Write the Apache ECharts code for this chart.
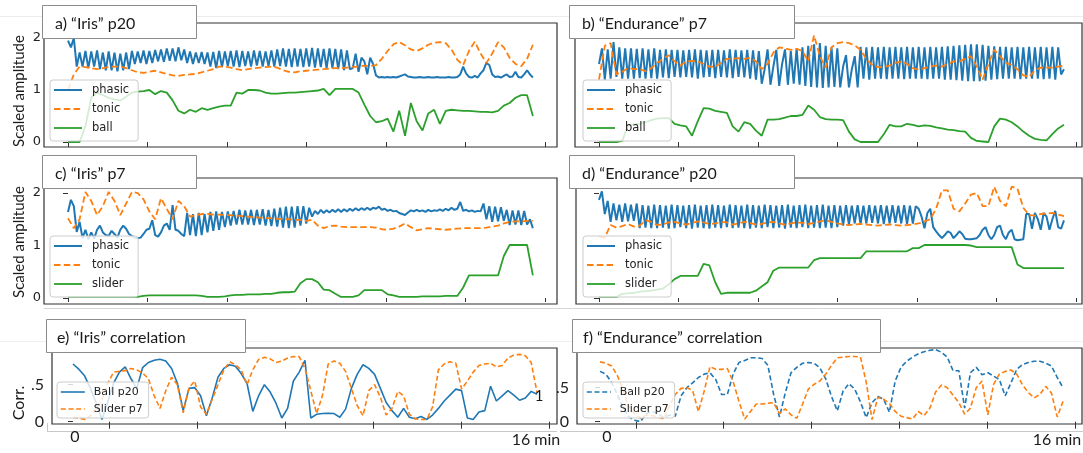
<!DOCTYPE html>
<html>
<head>
<meta charset="utf-8">
<script src="https://cdn.jsdelivr.net/npm/echarts@6/dist/echarts.min.js"></script>
<style>
  html, body { margin: 0; padding: 0; background: #fff; }
  #chart { width: 1083px; height: 453px; }
</style>
</head>
<body>
<div id="chart"></div>
<script>
// time step of each array, in minutes
const STEP_FINE = 0.1
const STEP = 0.2

// tick positions (minutes)
const TOP_TICKS = [0, 2.736, 5.471, 8.207, 10.943, 13.679, 16.414]
const CORR_TICKS = [1.24, 4.27, 7.31, 10.34, 13.38, 16.41]
const AMP_TICKS = [0, 1, 2]
const CORR_YTICKS = [0, 0.5]

// \u200c keeps Lato from merging "ti" into a ligature
const TITLES = ['a) “Iris” p20', 'b) “Endurance” p7', 'c) “Iris” p7', 'd) “Endurance” p20', 'e) “Iris” correlat\u200cion', 'f) “Endurance” correlat\u200cion']

// a) Iris p20
const phasicA = [1.95,1.82,2.0,1.45,1.72,1.45,1.75,1.42,1.74,1.45,
  1.76,1.4,1.72,1.38,1.74,1.38,1.72,1.36,1.7,1.38,
  1.72,1.4,1.75,1.5,1.74,1.52,1.76,1.5,1.75,1.52,
  1.77,1.55,1.78,1.54,1.8,1.56,1.8,1.55,1.82,1.57,
  1.78,1.52,1.74,1.5,1.72,1.52,1.73,1.5,1.72,1.45,
  1.73,1.42,1.75,1.44,1.74,1.46,1.75,1.45,1.76,1.44,
  1.75,1.46,1.74,1.45,1.76,1.47,1.75,1.45,1.74,1.46,
  1.76,1.45,1.78,1.46,1.8,1.45,1.79,1.44,1.8,1.45,
  1.79,1.44,1.8,1.45,1.81,1.43,1.8,1.44,1.79,1.42,
  1.8,1.42,1.79,1.4,1.78,1.38,1.76,1.4,1.42,1.7,
  1.35,1.62,1.55,1.3,1.62,1.5,1.28,1.24,1.25,1.24,
  1.25,1.24,1.25,1.24,1.26,1.28,1.3,1.26,1.25,1.24,
  1.24,1.25,1.24,1.24,1.25,1.24,1.24,1.25,1.24,1.24,
  1.24,1.25,1.24,1.24,1.25,1.3,1.45,1.32,1.25,1.24,
  1.27,1.24,1.32,1.38,1.52,1.48,1.3,1.25,1.26,1.24,
  1.27,1.3,1.25,1.26,1.35,1.25,1.24,1.3,1.38,1.3,
  1.24]
const tonicA = [1.0,1.3,1.45,1.44,1.42,1.4,1.42,1.44,1.45,1.45,
  1.42,1.38,1.34,1.33,1.35,1.37,1.34,1.31,1.28,1.27,
  1.29,1.3,1.31,1.34,1.37,1.4,1.45,1.45,1.43,1.4,
  1.38,1.4,1.42,1.43,1.44,1.45,1.43,1.38,1.35,1.34,
  1.36,1.37,1.38,1.39,1.4,1.41,1.42,1.42,1.43,1.44,
  1.45,1.47,1.46,1.48,1.6,1.75,1.88,1.92,1.86,1.78,
  1.75,1.8,1.87,1.91,1.92,1.9,1.78,1.58,1.48,1.75,
  1.93,1.7,1.52,1.7,1.92,1.82,1.62,1.5,1.46,1.6,
  1.87]
const ballA = [0,0,0,0.3,0.85,0.95,0.9,0.85,0.82,0.8,
  0.87,0.95,0.97,0.98,1.0,0.92,0.98,0.95,0.8,0.6,
  0.55,0.62,0.58,0.65,0.62,0.65,0.68,0.7,0.7,0.95,
  0.93,1.0,1.0,0.99,0.95,0.93,0.93,0.94,0.95,0.95,
  0.96,0.97,0.98,0.99,1.02,0.9,1.02,1.02,1.02,1.02,
  0.95,0.72,0.5,0.38,0.4,0.45,0.2,0.6,0.12,0.75,
  0.4,0.22,0.55,0.62,0.35,0.6,0.62,0.61,0.6,0.6,
  0.59,0.58,0.58,0.57,0.6,0.7,0.75,0.85,0.9,0.9,
  0.5]

// b) Endurance p7
const phasicB = [1.5,1.8,1.2,1.78,1.22,1.92,1.25,1.82,1.22,1.8,
  1.22,1.8,1.22,1.79,1.23,1.8,1.22,1.78,1.23,1.8,
  1.22,1.77,1.24,1.78,1.23,1.77,1.25,1.77,1.24,1.76,
  1.25,1.77,1.24,1.78,1.22,1.77,1.24,1.76,1.25,1.77,
  1.23,1.77,1.25,1.76,1.24,1.78,1.23,1.77,1.25,1.76,
  1.24,1.77,1.22,1.76,1.2,1.75,1.12,1.4,1.78,1.1,
  1.45,1.77,1.08,1.5,1.78,1.1,1.75,1.12,1.8,1.1,
  1.82,1.08,1.85,1.06,1.88,1.05,1.9,1.04,1.85,1.05,
  1.82,1.06,1.8,1.05,1.45,1.67,1.05,1.4,1.65,1.05,
  1.83,1.22,1.82,1.2,1.83,1.22,1.82,1.22,1.83,1.21,
  1.82,1.22,1.83,1.22,1.82,1.21,1.83,1.22,1.82,1.22,
  1.83,1.22,1.82,1.21,1.83,1.22,1.82,1.22,1.83,1.2,
  1.84,1.2,1.85,1.19,1.86,1.18,1.87,1.17,1.88,1.17,
  1.88,1.17,1.87,1.18,1.85,1.2,1.84,1.21,1.83,1.22,
  1.83,1.22,1.82,1.22,1.83,1.21,1.82,1.22,1.83,1.22,
  1.82,1.22,1.83,1.21,1.82,1.22,1.83,1.2,1.82,1.3,
  1.4]
const tonicB = [1.2,1.85,1.9,1.3,1.35,1.42,1.4,1.4,1.36,1.42,
  1.52,1.6,1.67,1.55,1.47,1.55,1.56,1.55,1.5,1.45,
  1.45,1.52,1.6,1.6,1.61,1.6,1.62,1.55,1.4,1.5,
  1.72,1.82,1.8,1.77,1.79,1.75,1.55,2.05,1.65,1.43,
  1.82,1.9,1.92,1.9,1.86,1.77,1.6,1.48,1.44,1.44,
  1.47,1.52,1.55,1.5,1.42,1.39,1.42,1.45,1.47,1.45,
  1.5,1.55,1.55,1.6,1.65,1.45,1.2,1.5,1.77,1.65,
  1.52,1.48,1.4,1.28,1.25,1.38,1.43,1.43,1.43,1.45,
  1.47]
const ballB = [0,0,0,0,0.02,0.33,0.34,0.35,0.38,0.42,
  0.45,0.46,0.46,0.35,0.32,0.3,0.12,0.4,0.65,0.64,
  0.6,0.58,0.56,0.3,0.2,0.38,0.35,0.22,0.12,0.43,
  0.43,0.44,0.47,0.5,0.5,0.52,0.7,0.62,0.48,0.44,
  0.43,0.43,0.42,0.2,0.05,0,0,0,0,0.15,
  0.33,0.3,0.3,0.35,0.33,0.3,0.32,0.31,0.28,0.26,
  0.24,0.23,0.21,0.2,0.08,0.02,0.01,0,0.3,0.45,
  0.43,0.38,0.3,0.2,0.12,0.06,0.04,0.03,0.15,0.26,
  0.33]

// c) Iris p7
const phasicC = [1.64,1.87,1.75,1.26,1.45,1.14,1.3,1.12,1.25,1.13,
  1.3,1.38,1.25,1.2,1.18,1.28,1.22,1.15,1.3,1.38,
  1.32,1.22,1.18,1.15,1.14,1.15,1.22,1.3,1.32,1.48,
  1.2,1.17,1.25,1.38,1.42,1.3,1.77,1.3,1.28,1.22,
  1.18,1.62,1.2,1.6,1.18,1.62,1.2,1.6,1.25,1.64,
  1.28,1.65,1.3,1.64,1.35,1.65,1.38,1.66,1.4,1.68,
  1.4,1.67,1.4,1.68,1.39,1.68,1.4,1.69,1.38,1.68,
  1.37,1.7,1.36,1.72,1.34,1.74,1.33,1.74,1.34,1.75,
  1.38,1.75,1.42,1.72,1.55,1.66,1.6,1.68,1.62,1.67,
  1.63,1.68,1.64,1.69,1.64,1.69,1.65,1.7,1.66,1.71,
  1.67,1.71,1.68,1.72,1.68,1.72,1.7,1.74,1.68,1.7,
  1.66,1.68,1.65,1.66,1.62,1.6,1.58,1.63,1.67,1.65,
  1.68,1.65,1.67,1.64,1.68,1.65,1.67,1.66,1.69,1.66,
  1.7,1.67,1.72,1.68,1.7,1.83,1.66,1.68,1.65,1.67,
  1.64,1.66,1.65,1.8,1.5,1.75,1.45,1.74,1.46,1.73,
  1.47,1.68,1.39,1.67,1.4,1.67,1.39,1.66,1.4,1.5,
  1.33]
const tonicC = [1.52,1.33,1.5,2.02,1.85,1.58,1.75,2.02,1.85,1.58,
  1.8,2.02,2.0,1.88,1.65,1.5,1.9,1.7,1.5,1.85,
  1.75,1.55,1.58,1.6,1.6,1.59,1.59,1.58,1.58,1.57,
  1.56,1.55,1.54,1.53,1.52,1.52,1.51,1.5,1.5,1.49,
  1.49,1.47,1.49,1.38,1.33,1.37,1.38,1.36,1.35,1.35,
  1.35,1.35,1.35,1.34,1.31,1.3,1.32,1.36,1.42,1.35,
  1.29,1.31,1.33,1.32,1.31,1.3,1.31,1.32,1.33,1.33,
  1.33,1.33,1.34,1.36,1.38,1.42,1.45,1.46,1.46,1.47,
  1.47]
const sliderC = [0.02,0.02,0.02,0.02,0.02,0.02,0.02,0.02,0.02,0.02,
  0.02,0.02,0.02,0.04,0.05,0.05,0.05,0.05,0.05,0.05,
  0.05,0.05,0.05,0.04,0.02,0.02,0.02,0.03,0.05,0.06,
  0.06,0.07,0.07,0.07,0.08,0.08,0.1,0.11,0.11,0.12,
  0.28,0.36,0.36,0.3,0.16,0.15,0.08,0.02,0.02,0.02,
  0.05,0.15,0.15,0.15,0.15,0.07,0.05,0.02,0.02,0.02,
  0.02,0.03,0.03,0.03,0.03,0.04,0.04,0.04,0.2,0.43,
  0.43,0.43,0.43,0.43,0.43,0.8,1.01,1.01,1.01,1.01,
  0.43]

// d) Endurance p20
const phasicD = [1.87,2.03,1.6,1.85,1.45,1.8,1.48,1.78,1.45,1.8,
  1.46,1.78,1.47,1.8,1.33,1.77,1.34,1.76,1.33,1.78,
  1.33,1.77,1.34,1.76,1.32,1.78,1.33,1.77,1.35,1.76,
  1.33,1.77,1.32,1.78,1.34,1.76,1.33,1.77,1.32,1.78,
  1.34,1.77,1.33,1.76,1.35,1.78,1.33,1.77,1.34,1.76,
  1.33,1.78,1.32,1.77,1.34,1.76,1.33,1.78,1.35,1.77,
  1.33,1.76,1.34,1.77,1.32,1.78,1.34,1.76,1.33,1.77,
  1.35,1.78,1.33,1.76,1.34,1.77,1.33,1.78,1.34,1.76,
  1.33,1.77,1.35,1.76,1.38,1.77,1.4,1.76,1.42,1.77,
  1.41,1.76,1.42,1.77,1.43,1.76,1.42,1.77,1.41,1.76,
  1.42,1.77,1.43,1.76,1.42,1.77,1.41,1.76,1.42,1.75,
  1.7,1.55,1.33,1.62,1.7,1.35,1.27,1.2,1.14,1.2,
  1.27,1.24,1.14,1.2,1.27,1.22,1.13,1.12,1.12,1.13,
  1.14,1.2,1.3,1.35,1.2,1.12,1.2,1.35,1.38,1.2,
  1.12,1.25,1.3,1.12,1.1,1.11,1.12,1.6,1.6,1.32,
  1.62,1.5,1.3,1.62,1.55,1.3,1.5,1.66,1.35,1.32,
  1.48]
const tonicD = [1.17,1.15,1.39,1.34,1.37,1.41,1.36,1.38,1.48,1.45,
  1.39,1.4,1.44,1.45,1.42,1.4,1.43,1.46,1.44,1.41,
  1.42,1.45,1.44,1.4,1.42,1.45,1.43,1.4,1.41,1.44,
  1.45,1.42,1.4,1.42,1.44,1.43,1.41,1.43,1.46,1.48,
  1.45,1.42,1.4,1.39,1.4,1.41,1.4,1.39,1.38,1.39,
  1.4,1.39,1.38,1.39,1.4,1.42,1.46,1.5,1.7,2.05,
  2.05,1.7,1.65,1.8,1.97,2.0,1.75,1.75,2.12,1.85,
  1.75,2.12,2.08,1.72,1.58,1.57,1.6,1.61,1.62,1.59,
  1.56]
const sliderD = [0.02,0.02,0.02,0.02,0.08,0.09,0.1,0.12,0.13,0.14,
  0.16,0.18,0.26,0.36,0.42,0.42,0.42,0.42,0.65,0.62,
  0.3,0.08,0.1,0.1,0.1,0.1,0.1,0.14,0.22,0.3,
  0.52,0.58,0.58,0.58,0.58,0.58,0.58,0.72,0.76,0.76,
  0.76,0.76,0.76,0.76,0.76,0.76,0.89,0.89,0.89,0.89,
  0.89,0.89,0.89,0.89,0.95,0.95,1.01,1.01,1.01,1.01,
  1.01,1.01,1.01,1.01,1.0,0.97,0.97,0.97,0.97,0.97,
  0.97,0.97,0.64,0.57,0.57,0.57,0.57,0.57,0.57,0.57,
  0.57]

// e) Iris correlation
const ballCorrE = [0.78,0.71,0.62,0.45,0.25,0.03,0.27,0.52,0.67,0.74,
  0.58,0.45,0.73,0.8,0.83,0.845,0.82,0.72,0.52,0.15,
  0.45,0.46,0.35,0.08,0.32,0.6,0.72,0.77,0.75,0.65,
  0.52,0.14,0.35,0.5,0.4,0.25,0.05,0.18,0.55,0.67,
  0.83,0.05,0.1,0.11,0.115,0.11,0.06,0.17,0.45,0.64,
  0.77,0.72,0.64,0.45,0.26,0.15,0.06,0.18,0.06,0.04,
  0.07,0.03,0.09,0.18,0.28,0.36,0.44,0.42,0.05,0.03,
  0.13,0.15,0.48,0.28,0.35,0.42,0.36,0.29,0.32,0.41,
  0.37]
const sliderCorrE = [0.06,0.05,0.03,0.08,0.18,0.3,0.52,0.67,0.68,0.69,
  0.72,0.7,0.66,0.58,0.35,0.18,0.42,0.6,0.5,0.12,
  0.46,0.55,0.2,0.1,0.3,0.5,0.7,0.81,0.77,0.7,
  0.5,0.7,0.84,0.87,0.85,0.8,0.82,0.86,0.88,0.88,
  0.72,0.42,0.11,0.35,0.78,0.82,0.79,0.68,0.45,0.22,
  0.08,0.42,0.5,0.33,0.09,0.18,0.41,0.35,0.1,0.04,
  0.03,0.03,0.2,0.7,0.78,0.81,0.79,0.44,0.55,0.67,
  0.76,0.78,0.79,0.74,0.76,0.86,0.9,0.91,0.89,0.8,
  0.4]

// f) Endurance correlation
const ballCorrF = [0.74,0.7,0.58,0.4,0.2,0.07,0.02,0.0,0.12,0.15,
  0.12,0.06,0.1,0.08,0.38,0.5,0.57,0.65,0.7,0.72,
  0.62,0.4,0.4,0.7,0.87,0.9,0.94,0.94,0.93,0.83,
  0.4,0.07,0.42,0.72,0.8,0.86,0.87,0.86,0.79,0.63,
  0.37,0.16,0.45,0.56,0.48,0.29,0.06,0.28,0.37,0.33,
  0.14,0.6,0.8,0.89,0.95,1.0,1.03,1.05,1.06,1.02,
  0.95,0.75,0.75,0.2,0.72,0.8,0.69,0.72,0.67,0.62,
  0.38,0.57,0.77,0.84,0.87,0.89,0.89,0.86,0.82,0.65,
  0.5]
const sliderCorrF = [0.88,0.86,0.82,0.68,0.45,0.22,0.12,0.05,0.1,0.09,
  0.07,0.04,0.23,0.4,0.49,0.5,0.46,0.15,0.45,0.81,
  0.77,0.77,0.78,0.59,0.3,0.04,0.15,0.26,0.26,0.27,
  0.28,0.12,0.19,0.1,0.05,0.26,0.48,0.55,0.6,0.7,
  0.83,0.94,0.95,0.96,0.96,0.95,0.58,0.03,0.36,0.33,
  0.27,0.15,0.08,0.06,0.04,0.15,0.09,0.2,0.44,0.54,
  0.5,0.39,0.28,0.11,0.2,0.5,0.6,0.1,0.55,0.7,
  0.74,0.76,0.7,0.54,0.43,0.35,0.4,0.52,0.42,0.07,
  0.3]

const BLUE = '#1f77b4'
const ORANGE = '#ff7f0e'
const GREEN = '#2ca02c'
const DASH_TOP = [6.5, 3.3]
const DASH_BOT = [5, 2.7]

const myChart = echarts.init(document.getElementById('chart'), null, { renderer: 'canvas' })

/* one line series, x in minutes from the array index */
function line(name, idx, values, step, color, width, dash) {
  return {
    type: 'line',
    name: name,
    xAxisIndex: idx,
    yAxisIndex: idx,
    data: values.map((v, i) => [i * step, v]),
    symbol: 'none',
    lineStyle: { color: color, width: width, type: dash || 'solid' },
    itemStyle: { color: color }
  }
}

function xAxisFor(idx, min, max, ticks, len) {
  return {
    type: 'value', gridIndex: idx, min: min, max: max,
    axisLine: { show: false },
    splitLine: { show: false },
    axisLabel: { show: false },
    axisTick: { show: true, length: len, customValues: ticks, lineStyle: { color: '#333' } }
  }
}

function yAxisFor(idx, min, max, ticks, label) {
  return {
    type: 'value', gridIndex: idx, min: min, max: max,
    axisLine: { show: false },
    splitLine: { show: false },
    axisTick: { show: true, length: 5, customValues: ticks, lineStyle: { color: '#333' } },
    axisLabel: label ? Object.assign({ show: true, customValues: ticks, color: '#222' }, label) : { show: false }
  }
}

const ampLabel = { fontFamily: 'DejaVu Sans', fontSize: 13, margin: 3 }
const corrLabel = { fontFamily: 'Lato', fontSize: 16, margin: 8, formatter: v => (v === 0 ? '0' : '.5') }

function legendFor(left, top, names, small) {
  return {
    orient: 'vertical',
    left: left,
    top: top,
    data: names,
    selectedMode: false,
    itemWidth: small ? 24 : 28,
    itemHeight: small ? 12 : 14,
    itemGap: 5,
    padding: small ? [4, 6, 3, 3] : [3, 9, 6, 3],
    backgroundColor: 'rgba(255,255,255,0.8)',
    borderColor: '#cccccc',
    borderWidth: 1,
    borderRadius: 3,
    itemStyle: { opacity: 0 },
    lineStyle: { width: 'inherit' },
    formatter: n => n.slice(2),
    textStyle: {
      fontFamily: 'DejaVu Sans',
      fontSize: small ? 11 : 11.5,
      lineHeight: small ? 12 : 14,
      color: '#222',
      padding: [0, 0, 0, small ? 4 : 5]
    }
  }
}

/* title boxes */
const titleBoxes = [
  [42, 5, 154, 33], [569, 5, 225, 33],
  [42, 155, 154, 33], [569, 155, 225, 33],
  [46, 319, 199, 33], [572, 319, 308, 33]
]
const graphic = []
titleBoxes.forEach((b, i) => {
  graphic.push({
    type: 'rect', z: 100, silent: true,
    shape: { x: b[0] + 0.5, y: b[1] + 0.5, width: b[2], height: b[3] },
    style: { fill: '#fff', stroke: '#8c8c8c', lineWidth: 1 }
  })
  graphic.push({
    type: 'text', z: 101, silent: true,
    x: b[0] + (i >= 4 ? 11 : 13), y: b[1] + 18.5,
    style: { text: TITLES[i], font: '16px Lato', fill: '#1a1a1a', align: 'left', verticalAlign: 'middle', textAlign: 'left', textVerticalAlign: 'middle' }
  })
})

/* faint rules left from the figure layout */
const rules = [
  [0, 16.5, 1083, '#ececec'], [44, 308.5, 1083, '#d6d6d6'], [0, 341.5, 1083, '#efefef'],
  [47, 431.5, 557, '#c8c8c8'], [560, 431.5, 1083, '#c8c8c8']
]
rules.forEach(r => {
  graphic.push({ type: 'line', silent: true, z: 1, shape: { x1: r[0], y1: r[1], x2: r[2], y2: r[1] }, style: { stroke: r[3], lineWidth: 1 } })
})
graphic.push({ type: 'line', silent: true, z: 1, shape: { x1: 47.5, y1: 423, x2: 47.5, y2: 431 }, style: { stroke: '#c8c8c8', lineWidth: 1 } })

/* axis names and loose labels */
function txt(s, x, y, size, rot) {
  return {
    type: 'text', silent: true, z: 101, x: x, y: y, rotation: rot || 0,
    style: { text: s, font: size + 'px Lato', fill: '#1a1a1a', align: 'center', verticalAlign: 'middle', textAlign: 'center', textVerticalAlign: 'middle' }
  }
}
graphic.push(txt('Scaled amplitude', 19, 91, 15, Math.PI / 2))
graphic.push(txt('Scaled amplitude', 19, 242, 15, Math.PI / 2))
graphic.push(txt('Corr.', 19, 403, 16, Math.PI / 2))
graphic.push(txt('0', 75, 437, 16))
graphic.push(txt('16 min', 536, 440, 16))
graphic.push(txt('0', 607, 437, 16))
graphic.push(txt('16 min', 1057, 440, 16))
graphic.push(txt('1', 539, 396, 15))

const gridStyle = { show: true, borderColor: '#333', borderWidth: 1.2, backgroundColor: 'transparent' }

const option = {
  animation: false,
  backgroundColor: '#fff',
  grid: [
    Object.assign({ left: 44, top: 23, width: 513, height: 124 }, gridStyle),
    Object.assign({ left: 575, top: 23, width: 507, height: 124 }, gridStyle),
    Object.assign({ left: 44, top: 178, width: 513, height: 126 }, gridStyle),
    Object.assign({ left: 576, top: 178, width: 506, height: 126 }, gridStyle),
    Object.assign({ left: 52, top: 348, width: 505, height: 76 }, gridStyle),
    Object.assign({ left: 577, top: 348, width: 505, height: 76 }, gridStyle)
  ],
  xAxis: [
    xAxisFor(0, -0.826, 16.83, TOP_TICKS, 5),
    xAxisFor(1, -0.826, 16.62, TOP_TICKS, 5),
    xAxisFor(2, -0.826, 16.83, TOP_TICKS, 4),
    xAxisFor(3, -0.79, 16.62, TOP_TICKS, 4),
    xAxisFor(4, -0.724, 16.69, CORR_TICKS, 7),
    xAxisFor(5, -0.795, 16.655, CORR_TICKS, 7)
  ],
  yAxis: [
    yAxisFor(0, -0.096, 2.288, AMP_TICKS, ampLabel),
    yAxisFor(1, -0.096, 2.288, AMP_TICKS, null),
    yAxisFor(2, -0.114, 2.286, AMP_TICKS, ampLabel),
    yAxisFor(3, -0.114, 2.286, AMP_TICKS, null),
    yAxisFor(4, -0.031, 0.996, CORR_YTICKS, corrLabel),
    yAxisFor(5, -0.034, 1.084, CORR_YTICKS, corrLabel)
  ],
  legend: [
    legendFor(50, 80, ['a:phasic', 'a:tonic', 'a:ball']),
    legendFor(583, 80, ['b:phasic', 'b:tonic', 'b:ball']),
    legendFor(50, 236, ['c:phasic', 'c:tonic', 'c:slider']),
    legendFor(583, 236, ['d:phasic', 'd:tonic', 'd:slider']),
    legendFor(57, 382, ['e:Ball p20', 'e:Slider p7'], true),
    legendFor(583, 382, ['f:Ball p20', 'f:Slider p7'], true)
  ],
  graphic: graphic,
  series: [
    line('a:phasic', 0, phasicA, STEP_FINE, BLUE, 2),
    line('a:tonic', 0, tonicA, STEP, ORANGE, 1.8, DASH_TOP),
    line('a:ball', 0, ballA, STEP, GREEN, 1.8),
    line('b:phasic', 1, phasicB, STEP_FINE, BLUE, 2),
    line('b:tonic', 1, tonicB, STEP, ORANGE, 1.8, DASH_TOP),
    line('b:ball', 1, ballB, STEP, GREEN, 1.8),
    line('c:phasic', 2, phasicC, STEP_FINE, BLUE, 2),
    line('c:tonic', 2, tonicC, STEP, ORANGE, 1.8, DASH_TOP),
    line('c:slider', 2, sliderC, STEP, GREEN, 1.8),
    line('d:phasic', 3, phasicD, STEP_FINE, BLUE, 2),
    line('d:tonic', 3, tonicD, STEP, ORANGE, 1.8, DASH_TOP),
    line('d:slider', 3, sliderD, STEP, GREEN, 1.8),
    line('e:Ball p20', 4, ballCorrE, STEP, BLUE, 1.6),
    line('e:Slider p7', 4, sliderCorrE, STEP, ORANGE, 1.6, DASH_BOT),
    line('f:Ball p20', 5, ballCorrF, STEP, BLUE, 1.6, DASH_BOT),
    line('f:Slider p7', 5, sliderCorrF, STEP, ORANGE, 1.6, DASH_BOT)
  ]
}
option && myChart.setOption(option)
</script>
</body>
</html>
